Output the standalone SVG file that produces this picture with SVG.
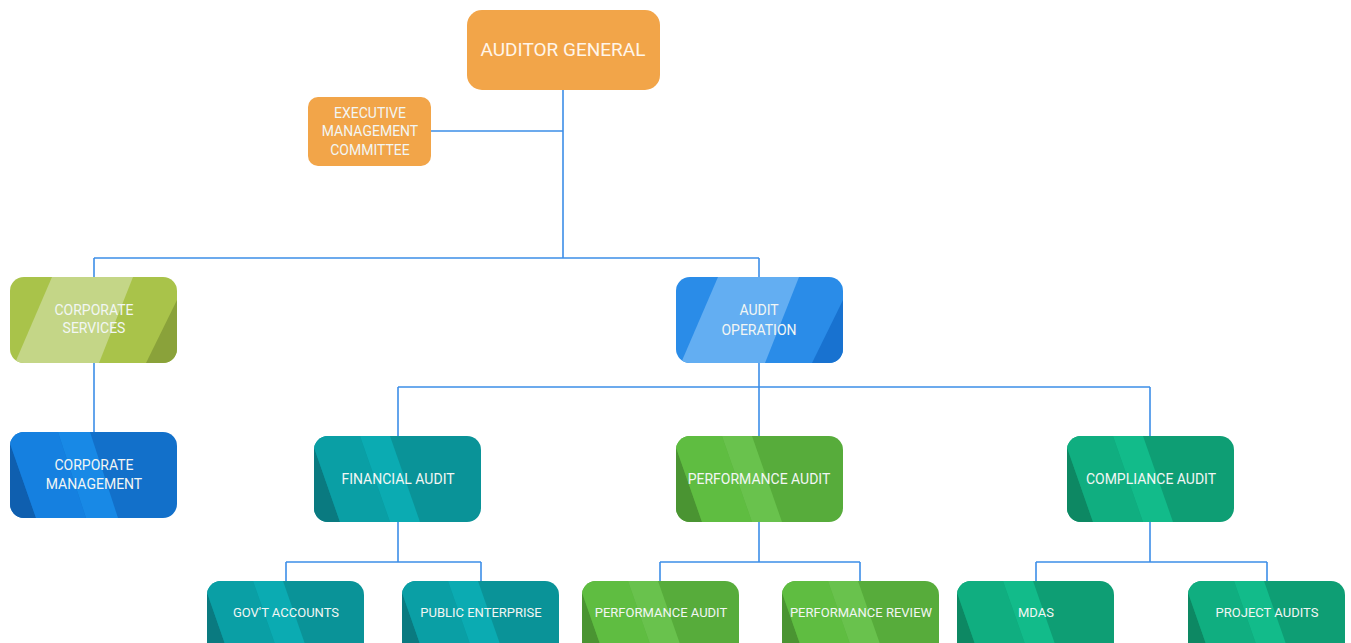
<svg xmlns="http://www.w3.org/2000/svg" width="1351" height="643" viewBox="0 0 1351 643">
<style>
.t{font-family:Roboto,"Liberation Sans",sans-serif;font-size:14px;fill:#F2F6F4;text-anchor:middle}
.s{font-size:13px}
.big{font-size:19px;fill:#FFF5EA}
.c{fill:none;stroke:#3D8EE8;stroke-width:1.6}
</style>
<defs>
<clipPath id="cA" clipPathUnits="userSpaceOnUse"><rect x="0" y="0" width="167" height="86" rx="14"/></clipPath>
<clipPath id="cB" clipPathUnits="userSpaceOnUse"><rect x="0" y="0" width="157" height="86" rx="14"/></clipPath>
</defs>
<rect width="1351" height="643" fill="#FFFFFF"/>
<g id="connectors" class="c">
<path d="M563 90V258M431 131H563M94 258H759M94 258V277M759 258V277M94 363V432M759 363V436M398 387H1150M398 387V436M1150 387V436M398 522V562M286 562H481M286 562V581M481 562V581M759 522V562M660 562H860M660 562V581M860 562V581M1150 522V562M1036 562H1267M1036 562V581M1267 562V581"/>
</g>
<g id="auditor-general">
<rect x="467" y="10" width="193" height="80" rx="15" fill="#F2A549"/>
<text class="t big" x="563" y="56">AUDITOR GENERAL</text>
</g>
<g id="executive-committee">
<rect x="308" y="97" width="123" height="69" rx="10" fill="#F2A549"/>
<text class="t" x="370" y="118">EXECUTIVE</text>
<text class="t" x="370" y="136">MANAGEMENT</text>
<text class="t" x="370" y="155">COMMITTEE</text>
</g>
<g id="corporate-services" transform="translate(10,277)">
<g clip-path="url(#cA)">
<rect width="167" height="86" fill="#A9C34A"/>
<polygon points="42,0 123,0 89,86 5,86" fill="#C4D687"/>
<polygon points="167,23 167,86 136,86" fill="#8AA23A"/>
</g>
<text class="t" x="84" y="38">CORPORATE</text>
<text class="t" x="84" y="56">SERVICES</text>
</g>
<g id="corporate-management" transform="translate(10,432)">
<g clip-path="url(#cA)">
<rect width="167" height="86" fill="#1270CA"/>
<polygon points="-10,0 -4,0 26,86 -10,86" fill="#0F5FAF"/>
<polygon points="-4,0 48,0 76,86 26,86" fill="#1580E0"/>
<polygon points="48,0 80,0 108,86 76,86" fill="#1889E6"/>
</g>
<text class="t" x="84" y="38">CORPORATE</text>
<text class="t" x="84" y="57">MANAGEMENT</text>
</g>
<g id="audit-operation" transform="translate(676,277)">
<g clip-path="url(#cA)">
<rect width="167" height="86" fill="#2A8CE8"/>
<polygon points="42,0 123,0 89,86 5,86" fill="#63AEF2"/>
<polygon points="167,23 167,86 136,86" fill="#1872D0"/>
</g>
<text class="t" x="83" y="38">AUDIT</text>
<text class="t" x="83" y="58">OPERATION</text>
</g>
<g id="financial-audit" transform="translate(314,436)">
<g clip-path="url(#cA)">
<rect width="167" height="86" fill="#0A9398"/>
<polygon points="-10,0 -4,0 26,86 -10,86" fill="#0A7A80"/>
<polygon points="-4,0 46,0 76,86 26,86" fill="#0A9FA5"/>
<polygon points="46,0 76,0 106,86 76,86" fill="#0BABB2"/>
</g>
<text class="t" x="84" y="48">FINANCIAL AUDIT</text>
</g>
<g id="performance-audit" transform="translate(676,436)">
<g clip-path="url(#cA)">
<rect width="167" height="86" fill="#57AC3B"/>
<polygon points="-10,0 -4,0 26,86 -10,86" fill="#4A9432"/>
<polygon points="-4,0 46,0 76,86 26,86" fill="#5FBD41"/>
<polygon points="46,0 76,0 106,86 76,86" fill="#69C24D"/>
</g>
<text class="t" x="83" y="48">PERFORMANCE AUDIT</text>
</g>
<g id="compliance-audit" transform="translate(1067,436)">
<g clip-path="url(#cA)">
<rect width="167" height="86" fill="#0E9E74"/>
<polygon points="-10,0 -4,0 26,86 -10,86" fill="#0D8863"/>
<polygon points="-4,0 46,0 76,86 26,86" fill="#10AE80"/>
<polygon points="46,0 76,0 106,86 76,86" fill="#12BB8A"/>
</g>
<text class="t" x="84" y="48">COMPLIANCE AUDIT</text>
</g>
<g id="govt-accounts" transform="translate(207,581)">
<g clip-path="url(#cB)">
<rect width="157" height="86" fill="#0A9398"/>
<polygon points="-10,0 -4,0 26,86 -10,86" fill="#0A7A80"/>
<polygon points="-4,0 46,0 76,86 26,86" fill="#0A9FA5"/>
<polygon points="46,0 76,0 106,86 76,86" fill="#0BABB2"/>
</g>
<text class="t s" x="79" y="36">GOV'T ACCOUNTS</text>
</g>
<g id="public-enterprise" transform="translate(402,581)">
<g clip-path="url(#cB)">
<rect width="157" height="86" fill="#0A9398"/>
<polygon points="-10,0 -4,0 26,86 -10,86" fill="#0A7A80"/>
<polygon points="-4,0 46,0 76,86 26,86" fill="#0A9FA5"/>
<polygon points="46,0 76,0 106,86 76,86" fill="#0BABB2"/>
</g>
<text class="t s" x="79" y="36">PUBLIC ENTERPRISE</text>
</g>
<g id="performance-audit-2" transform="translate(582,581)">
<g clip-path="url(#cB)">
<rect width="157" height="86" fill="#57AC3B"/>
<polygon points="-10,0 -4,0 26,86 -10,86" fill="#4A9432"/>
<polygon points="-4,0 46,0 76,86 26,86" fill="#5FBD41"/>
<polygon points="46,0 76,0 106,86 76,86" fill="#69C24D"/>
</g>
<text class="t s" x="79" y="36">PERFORMANCE AUDIT</text>
</g>
<g id="performance-review" transform="translate(782,581)">
<g clip-path="url(#cB)">
<rect width="157" height="86" fill="#57AC3B"/>
<polygon points="-10,0 -4,0 26,86 -10,86" fill="#4A9432"/>
<polygon points="-4,0 46,0 76,86 26,86" fill="#5FBD41"/>
<polygon points="46,0 76,0 106,86 76,86" fill="#69C24D"/>
</g>
<text class="t s" x="79" y="36">PERFORMANCE REVIEW</text>
</g>
<g id="mdas" transform="translate(957,581)">
<g clip-path="url(#cB)">
<rect width="157" height="86" fill="#0E9E74"/>
<polygon points="-10,0 -4,0 26,86 -10,86" fill="#0D8863"/>
<polygon points="-4,0 46,0 76,86 26,86" fill="#10AE80"/>
<polygon points="46,0 76,0 106,86 76,86" fill="#12BB8A"/>
</g>
<text class="t s" x="79" y="36">MDAS</text>
</g>
<g id="project-audits" transform="translate(1188,581)">
<g clip-path="url(#cB)">
<rect width="157" height="86" fill="#0E9E74"/>
<polygon points="-10,0 -4,0 26,86 -10,86" fill="#0D8863"/>
<polygon points="-4,0 46,0 76,86 26,86" fill="#10AE80"/>
<polygon points="46,0 76,0 106,86 76,86" fill="#12BB8A"/>
</g>
<text class="t s" x="79" y="36">PROJECT AUDITS</text>
</g>
</svg>
